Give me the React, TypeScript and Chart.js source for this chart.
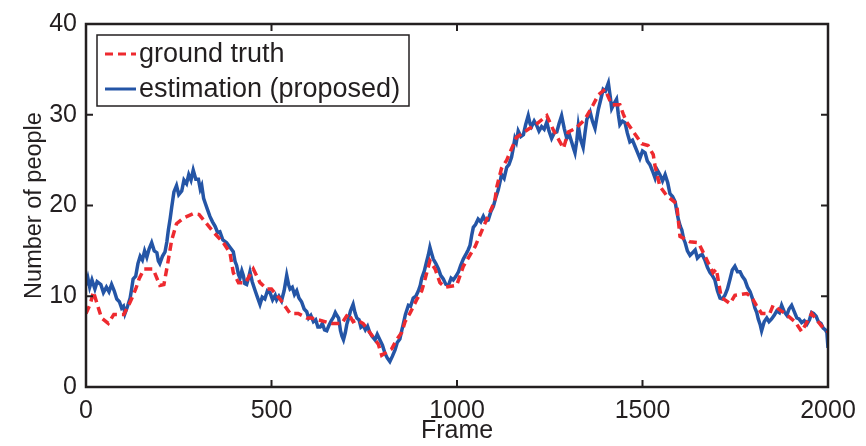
import React, { useEffect, useRef } from "react";
import { Chart, registerables } from "chart.js";

Chart.register(...registerables);

const xTicks = [0, 500, 1000, 1500, 2000];
const yTicks = [0, 10, 20, 30, 40];
const xTitle = "Frame";
const yTitle = "Number of people";
const seriesNames = ["ground truth", "estimation (proposed)"];

const truthFrames = [0, 12, 20, 35, 42, 60, 75, 102, 116, 125, 134, 143, 156, 181, 199, 210, 219, 231, 244, 262, 289, 305, 321, 343, 370, 388, 397, 411, 430, 451, 469, 487, 500, 523, 550, 572, 595, 608, 662, 689, 707, 720, 730, 747, 765, 788, 797, 824, 837, 851, 860, 873, 891, 905, 914, 927, 941, 954, 968, 999, 1017, 1049, 1075, 1102, 1107, 1120, 1134, 1160, 1192, 1215, 1242, 1260, 1287, 1300, 1320, 1345, 1367, 1381, 1399, 1417, 1439, 1448, 1457, 1498, 1515, 1529, 1534, 1547, 1565, 1592, 1601, 1628, 1651, 1677, 1690, 1699, 1712, 1736, 1749, 1781, 1794, 1807, 1821, 1843, 1852, 1884, 1911, 1929, 1956, 1983, 2000];
const truthValues = [8.1, 9.2, 10.5, 8.5, 7.6, 7.0, 8.0, 8.0, 9.1, 9.9, 10.8, 11.9, 13.0, 13.0, 11.2, 11.3, 13.3, 16.2, 18.0, 18.6, 19.1, 19.0, 18.2, 17.1, 15.9, 14.8, 12.6, 11.5, 11.5, 13.0, 11.5, 10.8, 10.8, 9.7, 8.1, 8.1, 7.6, 7.6, 7.0, 7.0, 8.1, 7.2, 7.4, 7.0, 6.0, 4.7, 3.5, 4.2, 5.2, 6.0, 7.2, 8.1, 9.6, 10.6, 11.9, 13.9, 13.0, 11.5, 11.0, 11.2, 13.3, 15.5, 18.0, 20.5, 22.0, 24.1, 25.0, 27.5, 28.4, 29.0, 29.9, 28.3, 26.3, 28.1, 28.5, 29.5, 31.1, 32.2, 32.8, 31.1, 31.1, 30.1, 29.2, 26.8, 26.6, 25.6, 24.3, 22.1, 21.1, 20.2, 16.6, 16.0, 15.9, 13.7, 12.6, 13.0, 9.9, 9.2, 10.1, 10.3, 9.9, 9.0, 8.1, 8.1, 9.0, 8.1, 7.2, 6.1, 8.1, 6.7, 6.1];

const estFrames = [0, 5, 10, 16, 24, 30, 40, 47, 55, 62, 69, 76, 83, 90, 96, 101, 105, 112, 119, 123, 127, 134, 140, 146, 152, 158, 164, 170, 177, 184, 191, 195, 199, 206, 213, 218, 222, 227, 231, 237, 244, 250, 258, 264, 271, 277, 283, 289, 296, 303, 308, 312, 317, 321, 327, 334, 341, 348, 355, 361, 369, 379, 388, 397, 402, 406, 411, 415, 420, 424, 428, 433, 438, 442, 448, 456, 462, 469, 475, 482, 489, 496, 503, 510, 514, 520, 527, 534, 541, 546, 550, 556, 562, 568, 574, 581, 588, 595, 600, 606, 613, 619, 625, 631, 637, 643, 649, 655, 661, 667, 672, 676, 681, 686, 690, 694, 699, 703, 708, 713, 720, 725, 730, 736, 741, 747, 753, 759, 765, 771, 779, 785, 792, 799, 806, 812, 819, 826, 833, 839, 846, 851, 855, 861, 869, 875, 882, 889, 896, 901, 905, 912, 918, 923, 927, 931, 936, 943, 950, 956, 963, 970, 977, 984, 990, 997, 1004, 1010, 1017, 1025, 1030, 1035, 1040, 1044, 1050, 1057, 1064, 1071, 1077, 1084, 1091, 1098, 1104, 1111, 1116, 1120, 1127, 1134, 1140, 1147, 1152, 1156, 1160, 1165, 1172, 1179, 1185, 1192, 1197, 1201, 1208, 1215, 1221, 1228, 1235, 1242, 1248, 1255, 1262, 1269, 1275, 1282, 1289, 1296, 1303, 1309, 1314, 1318, 1323, 1327, 1333, 1340, 1345, 1350, 1355, 1359, 1365, 1372, 1377, 1381, 1387, 1394, 1400, 1408, 1413, 1417, 1423, 1430, 1435, 1439, 1446, 1453, 1459, 1466, 1473, 1480, 1487, 1493, 1500, 1507, 1513, 1520, 1527, 1534, 1540, 1547, 1554, 1561, 1568, 1574, 1581, 1588, 1593, 1597, 1602, 1606, 1611, 1615, 1621, 1628, 1635, 1642, 1648, 1655, 1661, 1668, 1675, 1682, 1688, 1695, 1702, 1709, 1715, 1722, 1729, 1736, 1742, 1749, 1756, 1763, 1769, 1776, 1783, 1790, 1796, 1803, 1808, 1812, 1817, 1821, 1828, 1835, 1841, 1848, 1855, 1862, 1869, 1875, 1882, 1889, 1895, 1902, 1909, 1916, 1922, 1929, 1936, 1943, 1950, 1956, 1961, 1968, 1974, 1981, 1987, 1993, 1997, 2000];
const estValues = [11.2, 12.0, 11.0, 11.8, 10.8, 11.6, 11.3, 10.4, 11.0, 10.5, 11.3, 10.6, 9.7, 9.4, 8.7, 8.9, 8.1, 8.9, 9.8, 10.8, 11.9, 12.2, 13.6, 14.4, 14.0, 15.0, 14.3, 15.2, 15.9, 15.0, 14.8, 13.9, 13.6, 14.4, 14.9, 16.0, 17.3, 18.6, 19.8, 21.5, 22.2, 21.2, 21.6, 22.8, 22.4, 23.4, 22.8, 23.9, 22.9, 22.9, 21.8, 22.2, 20.8, 20.3, 19.6, 18.8, 18.2, 17.7, 17.0, 17.1, 16.2, 15.9, 15.4, 14.9, 13.8, 13.4, 12.4, 12.0, 12.8, 12.3, 11.4, 11.3, 12.0, 12.7, 11.6, 10.6, 9.9, 9.1, 9.9, 9.7, 10.6, 10.4, 9.6, 10.1, 9.6, 10.0, 9.5, 10.6, 12.3, 11.3, 10.8, 11.0, 10.2, 10.6, 9.8, 9.4, 8.6, 8.3, 7.6, 7.9, 7.2, 7.4, 6.6, 6.6, 7.0, 6.3, 6.2, 6.8, 7.3, 7.7, 8.2, 7.9, 7.6, 6.2, 5.6, 5.2, 6.0, 6.9, 7.6, 8.4, 9.1, 8.2, 7.6, 7.4, 6.6, 6.8, 6.3, 6.7, 6.0, 5.6, 5.2, 5.8, 5.2, 4.6, 3.7, 3.2, 2.8, 3.4, 4.1, 4.9, 5.3, 6.2, 6.9, 8.0, 9.0, 8.9, 9.8, 10.0, 10.6, 11.2, 12.0, 12.8, 13.8, 14.6, 15.4, 14.8, 14.1, 13.6, 13.0, 12.3, 11.9, 11.3, 11.2, 12.0, 11.8, 12.2, 12.7, 13.4, 14.1, 14.7, 15.1, 15.6, 16.8, 17.6, 17.9, 18.5, 18.2, 18.8, 18.3, 18.4, 19.3, 19.9, 20.8, 21.7, 22.6, 23.4, 23.0, 24.2, 24.5, 25.3, 26.4, 27.4, 27.0, 28.2, 27.6, 27.8, 28.9, 29.9, 29.0, 28.7, 29.3, 28.8, 28.2, 28.7, 28.4, 29.2, 28.2, 27.4, 28.0, 28.1, 29.0, 29.9, 28.5, 27.4, 27.8, 27.0, 26.3, 25.8, 27.2, 28.8, 27.3, 26.4, 28.0, 29.5, 29.9, 30.3, 29.3, 28.5, 29.7, 30.6, 31.6, 32.8, 32.6, 33.5, 32.0, 30.7, 31.2, 31.7, 30.0, 28.9, 29.3, 29.1, 28.0, 27.0, 27.2, 26.5, 25.8, 25.2, 26.0, 25.8, 24.9, 24.5, 23.8, 23.0, 23.9, 23.4, 22.7, 23.4, 22.5, 21.3, 21.0, 20.4, 19.2, 18.4, 17.7, 17.3, 16.3, 15.9, 15.0, 14.5, 14.8, 15.1, 14.2, 14.5, 14.6, 14.0, 13.2, 12.6, 12.3, 11.8, 10.6, 9.8, 9.7, 10.1, 10.8, 11.9, 12.9, 13.3, 12.7, 12.7, 12.2, 11.8, 11.0, 10.5, 9.8, 8.7, 8.2, 7.5, 6.9, 6.2, 7.2, 7.6, 7.2, 7.5, 7.9, 8.4, 8.2, 9.0, 8.3, 7.9, 8.6, 9.0, 8.3, 7.6, 7.5, 7.1, 7.3, 6.9, 7.4, 8.2, 8.1, 7.8, 7.2, 7.0, 6.5, 6.3, 6.0, 4.3];

const INK = "#231f20";
const RED = "#ee2a2f";
const BLUE = "#2455a6";
const FONT = "'Liberation Sans', Arial, sans-serif";

const framePlugin = {
  id: "frameTicks",
  afterDatasetsDraw(chart: any) {
    const { ctx, chartArea } = chart;
    const xs = chart.scales.x;
    const ys = chart.scales.y;
    const tl = 7;
    ctx.save();
    ctx.strokeStyle = INK;
    ctx.lineWidth = 2;
    ctx.beginPath();
    xs.ticks.forEach((t: any) => {
      const px = xs.getPixelForValue(t.value);
      ctx.moveTo(px, chartArea.bottom);
      ctx.lineTo(px, chartArea.bottom - tl);
      ctx.moveTo(px, chartArea.top);
      ctx.lineTo(px, chartArea.top + tl);
    });
    ys.ticks.forEach((t: any) => {
      const py = ys.getPixelForValue(t.value);
      ctx.moveTo(chartArea.left, py);
      ctx.lineTo(chartArea.left + tl, py);
      ctx.moveTo(chartArea.right, py);
      ctx.lineTo(chartArea.right - tl, py);
    });
    ctx.stroke();
    ctx.lineWidth = 2.5;
    ctx.strokeRect(chartArea.left, chartArea.top, chartArea.right - chartArea.left, chartArea.bottom - chartArea.top);
    ctx.restore();
  },
};

const legendPlugin = {
  id: "boxLegend",
  afterDraw(chart: any) {
    const { ctx, chartArea } = chart;
    const bx = chartArea.left + 11;
    const by = chartArea.top + 11;
    const bw = 312;
    const bh = 71;
    ctx.save();
    ctx.fillStyle = "#ffffff";
    ctx.fillRect(bx, by, bw, bh);
    ctx.strokeStyle = INK;
    ctx.lineWidth = 1.5;
    ctx.strokeRect(bx, by, bw, bh);
    const rows = [by + 19, by + 54];
    chart.data.datasets.forEach((ds: any, i: number) => {
      const y = rows[i];
      ctx.strokeStyle = ds.borderColor;
      ctx.lineWidth = 3;
      ctx.setLineDash(ds.borderDash || []);
      ctx.beginPath();
      ctx.moveTo(bx + 8, y);
      ctx.lineTo(bx + 39, y);
      ctx.stroke();
      ctx.setLineDash([]);
      ctx.fillStyle = INK;
      ctx.font = `27px ${FONT}`;
      ctx.textBaseline = "middle";
      ctx.textAlign = "left";
      ctx.fillText(ds.label, bx + 42, y + 1);
    });
    ctx.restore();
  },
};

export default function App() {
  const ref = useRef<HTMLCanvasElement>(null);
  useEffect(() => {
    document.body.style.margin = "0";
    const canvas = ref.current!;
    const chart = new Chart(canvas, {
      type: "line",
      data: {
        datasets: [
          {
            label: seriesNames[0],
            data: truthFrames.map((f, i) => ({ x: f, y: truthValues[i] })),
            borderColor: RED,
            borderWidth: 3.5,
            borderDash: [8, 5],
            pointRadius: 0,
            tension: 0,
            fill: false,
          },
          {
            label: seriesNames[1],
            data: estFrames.map((f, i) => ({ x: f, y: estValues[i] })),
            borderColor: BLUE,
            borderWidth: 3.5,
            pointRadius: 0,
            tension: 0,
            fill: false,
          },
        ],
      },
      options: {
        responsive: false,
        animation: false,
        layout: { padding: { top: 16, right: 38, left: 0, bottom: 0 } },
        plugins: { legend: { display: false }, tooltip: { enabled: false } },
        scales: {
          x: {
            type: "linear",
            min: xTicks[0],
            max: xTicks[xTicks.length - 1],
            afterBuildTicks: (s: any) => {
              s.ticks = xTicks.map((v) => ({ value: v }));
            },
            afterFit: (s: any) => {
              s.height = 59;
            },
            grid: { display: false, drawTicks: false },
            border: { display: false },
            ticks: {
              color: INK,
              font: { family: FONT, size: 25 },
              padding: 9,
              maxRotation: 0,
              callback: (v: any) => String(v),
            },
            title: {
              display: true,
              text: xTitle,
              color: INK,
              font: { family: FONT, size: 25, lineHeight: 1.2 },
              padding: { top: 0, bottom: 0 },
            },
          },
          y: {
            type: "linear",
            min: yTicks[0],
            max: yTicks[yTicks.length - 1],
            afterBuildTicks: (s: any) => {
              s.ticks = yTicks.map((v) => ({ value: v }));
            },
            afterFit: (s: any) => {
              s.width = 86;
            },
            grid: { display: false, drawTicks: false },
            border: { display: false },
            ticks: { color: INK, font: { family: FONT, size: 25 }, padding: 9, callback: (v: any) => String(v) },
            title: {
              display: true,
              text: yTitle,
              color: INK,
              font: { family: FONT, size: 23.5, lineHeight: 1.2 },
              padding: { top: 20, bottom: 0 },
            },
          },
        },
      },
      plugins: [framePlugin, legendPlugin],
    });
    return () => chart.destroy();
  }, []);
  return (
    <div style={{ position: "fixed", left: 0, top: 0, width: 866, height: 446, background: "#fff" }}>
      <canvas ref={ref} width={866} height={446} style={{ display: "block" }} />
    </div>
  );
}
